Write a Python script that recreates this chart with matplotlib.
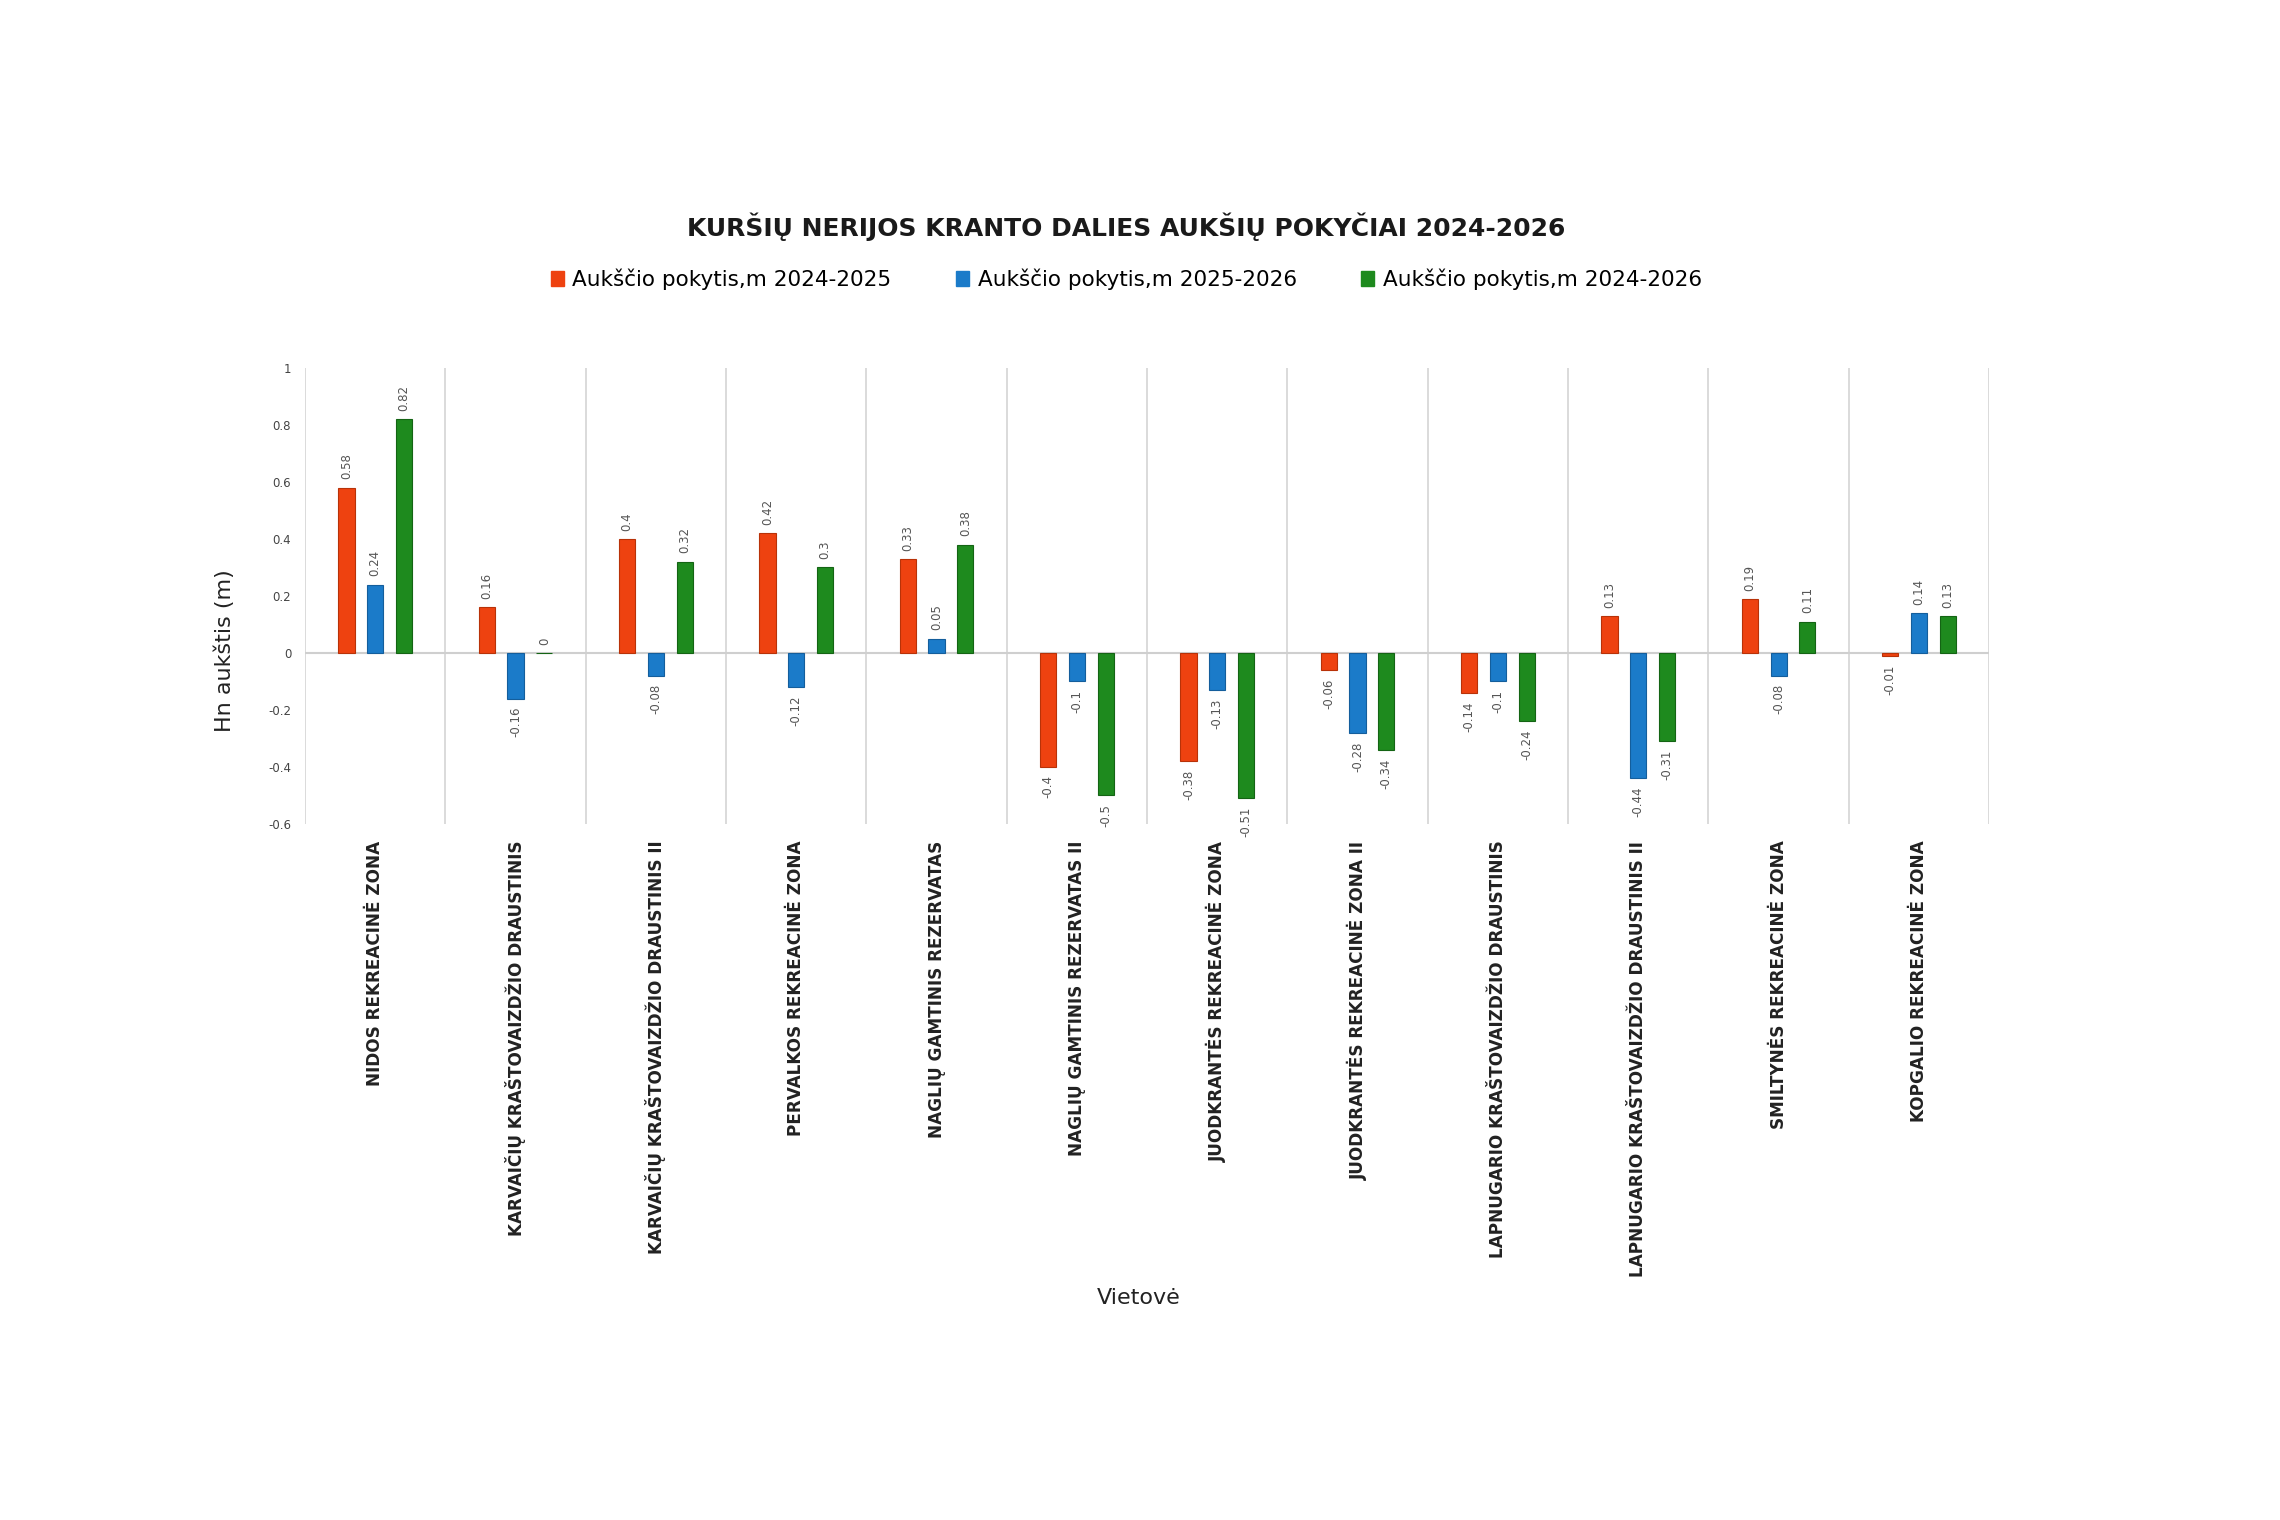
import matplotlib
matplotlib.use('Agg')
from matplotlib import pyplot as plt
from matplotlib.patches import Patch
import numpy as np

# categories along the coast
places = ['NIDOS REKREACINĖ ZONA',
          'KARVAIČIŲ KRAŠTOVAIZDŽIO DRAUSTINIS',
          'KARVAIČIŲ KRAŠTOVAIZDŽIO DRAUSTINIS II',
          'PERVALKOS REKREACINĖ ZONA',
          'NAGLIŲ GAMTINIS REZERVATAS',
          'NAGLIŲ GAMTINIS REZERVATAS II',
          'JUODKRANTĖS REKREACINĖ ZONA',
          'JUODKRANTĖS REKREACINĖ ZONA II',
          'LAPNUGARIO KRAŠTOVAIZDŽIO DRAUSTINIS',
          'LAPNUGARIO KRAŠTOVAIZDŽIO DRAUSTINIS II',
          'SMILTYNĖS REKREACINĖ ZONA',
          'KOPGALIO REKREACINĖ ZONA']

chg_24_25 = [0.58, 0.16, 0.4, 0.42, 0.33, -0.4, -0.38, -0.06, -0.14, 0.13, 0.19, -0.01]
chg_25_26 = [0.24, -0.16, -0.08, -0.12, 0.05, -0.1, -0.13, -0.28, -0.1, -0.44, -0.08, 0.14]
chg_24_26 = [0.82, 0, 0.32, 0.3, 0.38, -0.5, -0.51, -0.34, -0.24, -0.31, 0.11, 0.13]

series_names = ['Aukščio pokytis,m 2024-2025', 'Aukščio pokytis,m 2025-2026', 'Aukščio pokytis,m 2024-2026']
colors = ['#EE4210', '#1B7BC9', '#1E8A1E']
edges = ['#B83208', '#145E9C', '#146414']

yticks = [1, 0.8, 0.6, 0.4, 0.2, 0, -0.2, -0.4, -0.6]

fig = plt.figure(figsize=(22.8, 15.2), dpi=100)
ax = fig.add_axes([0.1338, 0.4579, 0.7386, 0.3000])

x = np.arange(len(places))
w = 0.115
offs = [-0.205, 0, 0.205]
for vals, off, c, ec in zip([chg_24_25, chg_25_26, chg_24_26], offs, colors, edges):
    bars = ax.bar(x + off, vals, w, color=c, edgecolor=ec, linewidth=0.8, zorder=3)
    for b, v in zip(bars, vals):
        if v >= 0:
            ax.annotate(f'{v:g}', (b.get_x() + b.get_width() / 2, v), xytext=(0, 6),
                        textcoords='offset points', rotation=90, ha='center', va='bottom',
                        fontsize=8.5, color='#555555')
        else:
            ax.annotate(f'{v:g}', (b.get_x() + b.get_width() / 2, v), xytext=(0, -6),
                        textcoords='offset points', rotation=90, ha='center', va='top',
                        fontsize=8.5, color='#555555')

ax.set_xlim(-0.5, len(places) - 0.5)
ax.set_ylim(-0.6, 1)
ax.vlines(np.arange(len(places) + 1) - 0.5, -0.6, 1, color='#d4d4d4', linewidth=1.2, zorder=1)
ax.axhline(0, color='#cfcfcf', linewidth=1.5, zorder=2)

for s in ax.spines.values():
    s.set_visible(False)

ax.set_yticks(yticks)
ax.set_yticklabels([f'{t:g}' for t in yticks], fontsize=8.5, color='#444444')
ax.set_xticks(x)
ax.set_xticklabels(places, rotation=90, fontsize=12.2, fontweight='bold', color='#222222', va='top')
ax.tick_params(axis='both', length=0)
ax.tick_params(axis='x', pad=12)
ax.tick_params(axis='y', pad=10)

fig.text(0.494, 0.8507, 'KURŠIŲ NERIJOS KRANTO DALIES AUKŠIŲ POKYČIAI 2024-2026',
         ha='center', va='center', fontsize=18, fontweight='bold', color='#1a1a1a')

handles = [Patch(facecolor=c, edgecolor=c) for c in colors]
fig.legend(handles, series_names, loc='center', bbox_to_anchor=(0.494, 0.8164), ncol=3,
           frameon=False, fontsize=15.5, handlelength=0.6, handleheight=0.7,
           handletextpad=0.4, columnspacing=3.0)

fig.text(0.0987, 0.572, 'Hn aukštis (m)', rotation=90, ha='center', va='center', fontsize=16, color='#222222')
fig.text(0.4996, 0.146, 'Vietovė', ha='center', va='center', fontsize=16, color='#222222')

fig.savefig('out.png', dpi=100, facecolor='white')
